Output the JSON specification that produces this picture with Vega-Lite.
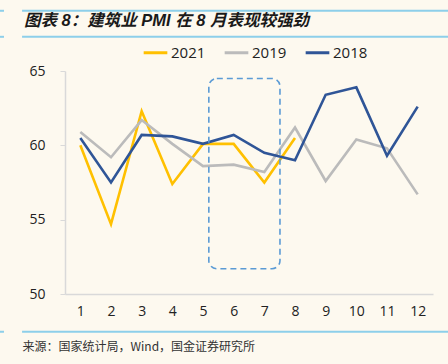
{
  "$schema": "https://vega.github.io/schema/vega-lite/v6.json",
  "width": 368,
  "height": 223,
  "autosize": {"type": "none"},
  "padding": {"left": 65, "top": 71, "right": 15, "bottom": 70},
  "background": "#FDF9EF",
  "title": {
    "text": "图表 8：建筑业 PMI 在 8 月表现较强劲",
    "anchor": "start",
    "frame": "group",
    "orient": "top",
    "dx": -41,
    "offset": -33,
    "baseline": "alphabetic",
    "font": "Liberation Sans, Noto Sans CJK SC",
    "fontSize": 16.5,
    "fontWeight": "bold",
    "fontStyle": "italic",
    "color": "#1a1a1a"
  },
  "config": {
    "view": {"stroke": null},
    "font": "Open Sans, Noto Sans CJK SC"
  },
  "data": {
    "values": [
      {"month": 1, "year": "2021", "pmi": 60.0},
      {"month": 2, "year": "2021", "pmi": 54.7},
      {"month": 3, "year": "2021", "pmi": 62.3},
      {"month": 4, "year": "2021", "pmi": 57.4},
      {"month": 5, "year": "2021", "pmi": 60.1},
      {"month": 6, "year": "2021", "pmi": 60.1},
      {"month": 7, "year": "2021", "pmi": 57.5},
      {"month": 8, "year": "2021", "pmi": 60.5},
      {"month": 1, "year": "2019", "pmi": 60.9},
      {"month": 2, "year": "2019", "pmi": 59.2},
      {"month": 3, "year": "2019", "pmi": 61.7},
      {"month": 4, "year": "2019", "pmi": 60.1},
      {"month": 5, "year": "2019", "pmi": 58.6},
      {"month": 6, "year": "2019", "pmi": 58.7},
      {"month": 7, "year": "2019", "pmi": 58.2},
      {"month": 8, "year": "2019", "pmi": 61.2},
      {"month": 9, "year": "2019", "pmi": 57.6},
      {"month": 10, "year": "2019", "pmi": 60.4},
      {"month": 11, "year": "2019", "pmi": 59.8},
      {"month": 12, "year": "2019", "pmi": 56.7},
      {"month": 1, "year": "2018", "pmi": 60.5},
      {"month": 2, "year": "2018", "pmi": 57.5},
      {"month": 3, "year": "2018", "pmi": 60.7},
      {"month": 4, "year": "2018", "pmi": 60.6},
      {"month": 5, "year": "2018", "pmi": 60.1},
      {"month": 6, "year": "2018", "pmi": 60.7},
      {"month": 7, "year": "2018", "pmi": 59.5},
      {"month": 8, "year": "2018", "pmi": 59.0},
      {"month": 9, "year": "2018", "pmi": 63.4},
      {"month": 10, "year": "2018", "pmi": 63.9},
      {"month": 11, "year": "2018", "pmi": 59.3},
      {"month": 12, "year": "2018", "pmi": 62.6}
    ]
  },
  "layer": [
    {
      "mark": {"type": "line", "strokeWidth": 2.6, "strokeJoin": "miter"},
      "encoding": {
        "x": {
          "field": "month", "type": "quantitative",
          "scale": {"domain": [0.5, 12.5], "nice": false, "zero": false},
          "axis": {
            "values": [1,2,3,4,5,6,7,8,9,10,11,12],
            "tickCount": 24,
            "format": "d",
            "title": "来源：国家统计局，Wind，国金证券研究所",
            "titleX": -43, "titleY": 52, "titleAnchor": "start", "titleAlign": "left",
            "titleBaseline": "middle", "titleFontWeight": "normal", "titleFontSize": 12,
            "titleColor": "#333333", "titleFont": "Noto Sans CJK SC",
            "grid": false, "ticks": false, "domainColor": "#D9D9D9", "domainWidth": 1.5,
            "labelFontSize": 14, "labelColor": "#222222", "labelPadding": 10, "labelFlush": false,
            "labelOverlap": false
          }
        },
        "y": {
          "field": "pmi", "type": "quantitative",
          "scale": {"domain": [50, 65], "nice": false, "zero": false},
          "axis": {
            "values": [50, 55, 60, 65], "title": null, "grid": false,
            "tickSize": 5, "tickColor": "#D9D9D9", "domainColor": "#D9D9D9", "domainWidth": 1.5,
            "labelPadding": 15, "labelFontSize": 14, "labelColor": "#222222"
          }
        },
        "color": {
          "field": "year", "type": "nominal",
          "scale": {"domain": ["2021", "2019", "2018"], "range": ["#FFC000", "#BBBBBB", "#2F5597"]},
          "legend": {
            "title": null, "orient": "none", "direction": "horizontal",
            "legendX": 77, "legendY": -32,
            "symbolType": "stroke", "symbolSize": 560, "symbolStrokeWidth": 3,
            "labelFontSize": 15, "labelColor": "#222222", "labelOffset": 2, "columnPadding": 12
          }
        }
      }
    },
    {
      "data": {"values": [{}]},
      "mark": {"type": "rect", "fill": null, "stroke": "#5B9BD5", "strokeWidth": 1.6, "strokeDash": [6, 4], "cornerRadius": 8},
      "encoding": {
        "x": {"datum": 5.19, "type": "quantitative"},
        "x2": {"datum": 7.51},
        "y": {"datum": 64.5, "type": "quantitative"},
        "y2": {"datum": 51.7}
      }
    },
    {
      "data": {"values": [{}]},
      "mark": {"type": "rule", "stroke": "#8DCFEA", "strokeWidth": 2},
      "encoding": {"x": {"datum": -0.9, "type": "quantitative"}, "x2": {"datum": 13.0}, "y": {"datum": 69.05, "type": "quantitative"}}
    },
    {
      "data": {"values": [{}]},
      "mark": {"type": "rule", "stroke": "#8DCFEA", "strokeWidth": 2},
      "encoding": {"x": {"datum": -1.62, "type": "quantitative"}, "x2": {"datum": -1.49}, "y": {"datum": 69.05, "type": "quantitative"}}
    },
    {
      "data": {"values": [{}]},
      "mark": {"type": "rule", "stroke": "#8DCFEA", "strokeWidth": 2},
      "encoding": {"x": {"datum": -0.9, "type": "quantitative"}, "x2": {"datum": 13.0}, "y": {"datum": 67.3, "type": "quantitative"}}
    },
    {
      "data": {"values": [{}]},
      "mark": {"type": "rule", "stroke": "#8DCFEA", "strokeWidth": 2},
      "encoding": {"x": {"datum": -1.62, "type": "quantitative"}, "x2": {"datum": -1.49}, "y": {"datum": 67.3, "type": "quantitative"}}
    },
    {
      "data": {"values": [{}]},
      "mark": {"type": "rule", "stroke": "#8DCFEA", "strokeWidth": 2},
      "encoding": {"x": {"datum": -0.9, "type": "quantitative"}, "x2": {"datum": 13.0}, "y": {"datum": 47.46, "type": "quantitative"}}
    },
    {
      "data": {"values": [{}]},
      "mark": {"type": "rule", "stroke": "#8DCFEA", "strokeWidth": 2},
      "encoding": {"x": {"datum": -1.62, "type": "quantitative"}, "x2": {"datum": -1.49}, "y": {"datum": 47.46, "type": "quantitative"}}
    }
  ]
}
